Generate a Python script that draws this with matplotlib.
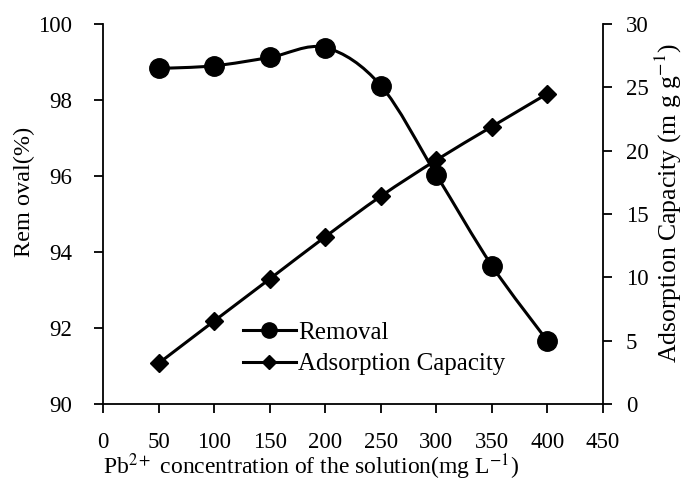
import matplotlib
matplotlib.use("Agg")
import matplotlib.pyplot as plt
from matplotlib.path import Path
from matplotlib.patches import PathPatch
from matplotlib.lines import Line2D
import numpy as np

plt.rcParams['font.family'] = ['Liberation Serif', 'DejaVu Serif']
plt.rcParams['mathtext.fontset'] = 'stix'

concentration = [50, 100, 150, 200, 250, 300, 350, 400]
removal = [98.83, 98.90, 99.12, 99.38, 98.38, 96.03, 93.64, 91.66]
adsorption = [3.21, 6.55, 9.87, 13.2, 16.4, 19.26, 21.9, 24.5]
x_ticks = [0, 50, 100, 150, 200, 250, 300, 350, 400, 450]
left_ticks = [90, 92, 94, 96, 98, 100]
right_ticks = [0, 5, 10, 15, 20, 25, 30]


def smooth_path(xs, ys, tension=1/6):
    xs = np.asarray(xs, float)
    ys = np.asarray(ys, float)
    pts = np.column_stack([xs, ys])
    n = len(pts)
    verts = [pts[0]]
    codes = [Path.MOVETO]
    for i in range(n - 1):
        p0 = pts[i - 1] if i > 0 else pts[i]
        p1 = pts[i]
        p2 = pts[i + 1]
        p3 = pts[i + 2] if i + 2 < n else pts[i + 1]
        c1 = p1 + (p2 - p0) * tension
        c2 = p2 - (p3 - p1) * tension
        verts += [c1, c2, p2]
        codes += [Path.CURVE4] * 3
    return Path(verts, codes)


W, H = 683, 486
L, R, T, B = 103, 603, 24, 404
fig = plt.figure(figsize=(W / 100, H / 100), dpi=100)
ax = fig.add_axes([L / W, 1 - B / H, (R - L) / W, (B - T) / H])
ax2 = ax.twinx()

lw = 2.2
ax.add_patch(PathPatch(smooth_path(concentration, removal), fill=False,
                       edgecolor='black', lw=lw, zorder=2))
ax.plot(concentration, removal, linestyle='none', marker='o', markersize=14,
        color='black', zorder=3)

ax2.add_patch(PathPatch(smooth_path(concentration, adsorption), fill=False,
                        edgecolor='black', lw=lw, zorder=2))
ax2.plot(concentration, adsorption, linestyle='none', marker='D', markersize=9.5,
         color='black', zorder=3)

ax.set_xlim(0, 450)
ax.set_ylim(90, 100)
ax2.set_ylim(0, 30)
ax.set_xticks(x_ticks)
ax.set_yticks(left_ticks)
ax2.set_yticks(right_ticks)

for a in (ax, ax2):
    a.spines['top'].set_visible(False)
    for s in a.spines.values():
        s.set_linewidth(1.3)
ax.spines['right'].set_visible(False)
ax2.spines['left'].set_visible(False)
ax2.spines['bottom'].set_visible(False)

ax.tick_params(axis='x', direction='out', length=6.5, width=1.3, labelsize=16.5, pad=14)
ax.tick_params(axis='y', direction='out', length=6.5, width=1.3, labelsize=16.5, pad=16)
ax2.tick_params(axis='y', direction='out', length=6.5, width=1.3, labelsize=16.5, pad=10)

ax.set_xlabel('Pb$^{2+}$ concentration of the solution(mg L$^{-1}$)', fontsize=17)
ax.xaxis.set_label_coords((311 - L) / (R - L), -(467 - B) / (B - T))
ax.xaxis.label.set_va('center')

ax.set_ylabel('Rem oval(%)', fontsize=17.5)
ax.yaxis.set_label_coords((24 - L) / (R - L), (B - 192) / (B - T))
ax.yaxis.label.set_va('center')

ax2.set_ylabel('Adsorption Capacity (m g g$^{-1}$)', fontsize=18.5)
ax2.yaxis.set_label_coords((668 - L) / (R - L), (B - 203) / (B - T))
ax2.yaxis.label.set_va('center')

handles = [Line2D([], [], color='black', lw=lw, marker='o', markersize=11),
           Line2D([], [], color='black', lw=lw, marker='D', markersize=7)]
leg = ax.legend(handles, ['Removal', 'Adsorption Capacity'], frameon=False,
                fontsize=18, loc='center left',
                bbox_to_anchor=(243 / W, 1 - 348.5 / H), bbox_transform=fig.transFigure,
                handlelength=2.1, handletextpad=0.1, labelspacing=0.35,
                borderpad=0, borderaxespad=0)

fig.savefig('out.png', dpi=100)
